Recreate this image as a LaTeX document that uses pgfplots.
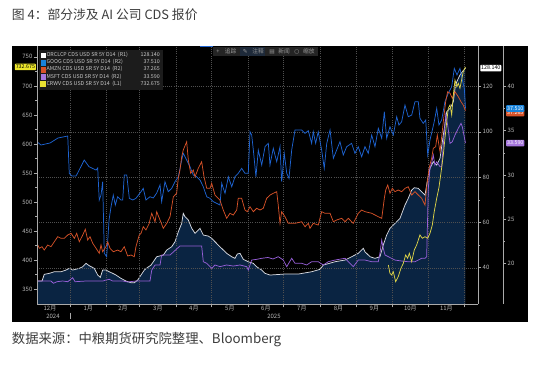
\documentclass[border=0pt]{standalone}
\usepackage{fontspec}
\setmainfont{Noto Sans CJK SC}
\newfontfamily\dejavu{DejaVu Sans}
\usepackage{pgfplots}
\pgfplotsset{compat=1.18}
\usepackage{pgfplotstable}

\definecolor{googc}{RGB}{30,100,210}
\definecolor{amznc}{RGB}{215,82,40}
\definecolor{msftc}{RGB}{150,95,215}
\definecolor{orclline}{RGB}{218,220,226}
\definecolor{orclfill}{RGB}{10,36,66}
\definecolor{crwvc}{RGB}{222,212,72}
\definecolor{axisgray}{RGB}{170,170,170}
\definecolor{gridgray}{RGB}{80,80,80}
\definecolor{labelgray}{RGB}{185,185,185}
\definecolor{legendbg}{RGB}{28,28,28}
\definecolor{legtext}{RGB}{200,200,200}
\definecolor{titlegray}{RGB}{60,60,60}
\definecolor{toolhl}{RGB}{30,42,58}

\pgfplotstableread{
d v
3.05 34.13
7.3 34.13
9.2 37.09
13.5 37.53
17.7 38.23
23.4 38.23
27.6 38.98
30.4 39.74
33.3 38.98
38.9 39.74
41.8 40.44
44.6 41.94
47.4 40.88
51.6 39.74
54.5 36.78
56.7 35.76
58.7 38.98
61.5 38.98
64.3 38.23
67.2 37.53
70.0 36.78
74.2 35.32
78.5 34.13
82.7 33.38
85.5 33.38
88.4 34.57
91.2 36.78
94.0 38.98
96.9 40.18
99.7 41.19
101.6 42.65
104.5 44.86
110.1 45.61
113.0 47.81
117.2 49.27
120.0 51.48
122.8 55.89
125.7 59.60
127.0 64.02
128.5 62.52
131.3 61.06
134.2 57.40
137.0 55.19
141.2 57.40
144.0 54.44
148.2 54.00
151.1 52.98
153.9 51.48
158.1 49.27
163.8 46.36
168.1 44.86
170.8 44.15
172.8 46.05
175.1 46.36
177.9 43.71
182.1 42.65
186.4 41.94
189.2 40.44
193.5 38.98
196.3 37.53
200.5 36.78
213.2 37.22
224.5 37.22
235.8 38.23
242.9 39.29
245.7 41.19
255.6 42.65
264.1 43.40
269.7 44.86
275.3 46.36
279.6 48.57
281.0 47.06
285.3 44.86
289.5 44.15
293.7 44.86
296.5 50.02
299.4 54.44
302.2 57.40
306.4 59.60
310.7 61.81
314.9 67.68
317.7 70.64
320.6 74.30
322.8 75.32
326.2 75.06
329.1 73.55
331.9 72.10
334.2 79.47
336.1 83.89
338.9 86.80
341.8 85.34
344.6 88.30
347.4 98.59
350.3 108.87
353.1 110.37
355.9 113.29
357.3 119.21
358.8 122.12
361.5 125.08
363.5 126.53
366.2 128.14
}\orcl

\pgfplotstableread{
d v
3.05 33.75
6.4 33.38
14.1 33.61
20.8 34.17
29.1 34.40
30.4 30.18
32.7 29.87
36.1 29.87
37.5 30.21
43.1 31.68
47.1 30.93
53.1 30.55
54.5 30.78
55.8 27.16
57.3 27.72
58.7 29.23
60.1 21.13
62.1 20.75
64.1 24.90
65.8 26.40
67.7 27.72
69.4 26.59
71.4 27.53
74.2 27.16
75.7 27.16
77.0 29.99
79.1 29.99
81.3 27.35
84.2 27.16
86.9 27.35
91.2 28.10
93.1 28.48
95.4 27.16
98.8 27.53
101.6 27.39
104.5 27.95
107.3 28.86
108.7 26.97
111.5 29.23
114.3 28.10
117.2 28.48
120.0 29.23
122.8 29.79
125.7 31.68
127.0 32.44
129.9 31.68
132.7 30.93
135.5 29.99
138.4 29.79
141.2 29.42
144.0 28.66
146.9 27.53
149.7 27.35
152.5 26.97
155.3 26.79
158.1 26.59
159.6 29.05
162.4 27.92
165.2 29.79
168.1 28.66
170.8 29.79
173.6 30.18
176.5 30.74
179.3 30.18
182.1 30.18
183.6 34.88
185.0 34.51
186.4 32.81
188.6 29.79
190.6 32.81
193.5 31.12
196.3 33.19
199.1 33.57
200.5 31.12
203.3 33.01
206.2 31.49
209.0 33.19
210.4 29.23
212.6 32.44
214.7 30.18
216.6 29.61
218.9 32.81
221.7 35.08
227.4 35.08
230.2 34.70
233.0 35.00
235.8 33.57
237.2 34.88
239.2 33.57
241.4 34.88
244.3 32.81
246.5 30.74
248.6 33.57
251.4 35.08
254.2 31.88
257.0 32.81
259.8 33.75
262.6 32.25
265.5 33.19
269.7 33.57
272.5 32.44
275.3 33.19
278.2 32.06
281.0 33.19
283.8 32.44
286.7 34.51
289.5 33.19
292.3 35.27
295.2 34.14
297.4 37.15
299.4 34.14
302.2 35.45
305.0 34.51
307.9 36.58
309.8 35.64
312.1 36.01
314.9 37.90
317.7 36.58
320.6 36.77
323.4 38.28
326.2 38.28
327.6 36.40
330.4 35.83
332.5 36.21
334.2 32.25
336.1 33.95
338.1 35.08
339.7 36.01
341.8 37.53
343.7 35.64
346.0 36.21
348.8 38.28
351.6 39.23
354.5 39.97
356.7 42.05
359.0 41.30
361.5 42.05
363.2 40.92
365.2 39.79
366.2 37.51
}\goog

\pgfplotstableread{
d v
3.05 22.26
5.0 21.70
7.3 21.88
9.2 21.50
12.1 22.07
14.9 21.88
17.7 22.44
20.6 23.01
23.4 22.83
26.2 22.83
29.1 23.20
31.9 23.39
34.7 22.83
36.7 23.39
38.9 22.44
41.8 23.20
44.0 23.85
46.0 22.64
48.0 23.01
50.3 22.26
53.1 21.70
55.8 21.13
57.3 22.07
58.7 21.31
61.5 21.88
63.0 22.44
64.9 21.70
67.7 21.31
71.4 21.50
74.2 21.31
77.0 21.88
79.9 20.83
82.7 20.94
85.5 20.75
86.9 21.88
89.7 23.20
91.2 23.39
93.1 24.14
95.4 23.77
98.2 24.52
98.8 24.90
100.3 25.66
103.1 24.70
104.5 25.84
107.3 24.90
110.1 23.96
113.0 24.52
115.8 25.27
118.6 27.53
121.4 27.92
122.8 29.61
124.2 30.55
125.7 32.06
127.0 32.81
129.9 33.75
131.3 31.68
133.3 30.18
135.5 30.55
137.0 29.79
139.7 30.74
142.6 31.49
144.6 29.79
146.9 28.48
149.7 28.48
151.1 29.05
153.9 27.72
158.1 27.16
160.9 26.03
163.8 25.09
166.6 25.66
169.4 25.46
172.3 26.03
173.6 27.35
176.5 27.35
179.3 26.03
181.3 25.84
183.6 26.40
186.4 25.84
189.2 26.22
192.0 26.03
194.8 26.22
197.7 27.35
200.5 27.72
203.3 27.92
206.2 28.10
207.5 26.59
209.0 24.52
210.4 25.84
213.2 25.27
216.0 24.52
221.7 24.52
227.4 24.70
230.2 24.14
233.0 24.52
234.4 23.96
237.2 24.52
241.4 24.33
244.3 25.84
247.1 25.66
251.4 25.66
254.2 24.70
257.0 24.90
261.3 25.09
264.1 24.70
266.9 25.09
271.1 24.52
275.3 25.66
278.2 26.03
281.0 25.84
286.7 25.66
292.3 25.27
295.2 25.09
296.5 26.40
297.4 27.35
298.6 28.29
300.3 28.86
302.2 27.92
304.2 28.48
306.4 28.10
309.2 28.29
312.1 28.10
314.9 28.48
317.7 28.66
320.6 27.72
323.4 28.10
326.2 27.72
329.1 27.35
331.9 26.59
333.3 28.66
335.3 30.74
337.5 31.88
338.9 33.01
340.9 33.19
342.3 34.51
344.6 32.62
347.4 36.01
349.4 38.28
351.1 39.41
353.1 39.23
355.0 38.66
357.3 39.41
360.1 38.84
362.4 38.28
364.3 37.90
366.2 37.27
}\amzn

\pgfplotstableread{
d v
3.05 18.00
14.9 18.00
16.9 17.74
20.0 17.92
24.8 18.00
29.1 17.92
33.3 18.37
35.3 17.92
44.6 18.00
59.0 18.00
61.5 18.11
64.3 18.19
67.2 18.00
75.7 18.00
79.9 17.89
86.9 18.00
98.8 18.00
100.3 19.24
103.1 19.81
107.3 19.81
108.7 20.94
115.8 20.94
124.2 21.96
142.6 21.96
144.0 20.18
146.9 20.00
151.1 19.43
153.9 19.81
158.1 19.62
163.8 19.81
169.4 19.69
175.1 19.81
180.8 19.62
182.1 19.24
185.0 20.37
189.2 20.45
193.7 20.57
198.8 20.66
203.1 20.49
207.5 20.75
211.8 20.37
214.7 19.62
218.9 20.57
221.7 20.00
227.4 20.00
231.6 19.81
235.8 20.18
241.4 20.18
245.7 19.81
249.9 20.18
255.6 20.37
264.1 20.57
271.1 19.62
275.3 20.37
281.0 20.37
286.7 20.18
292.3 20.18
293.7 21.13
295.2 22.64
296.5 21.70
298.0 20.94
300.8 20.75
306.4 20.37
312.1 20.26
317.7 20.18
323.4 20.18
329.1 20.57
331.9 20.57
333.3 20.75
334.7 28.48
336.1 30.74
337.5 31.31
338.9 32.25
340.3 31.12
341.8 31.49
344.6 30.93
346.0 30.93
347.4 33.38
349.4 36.77
351.1 35.64
353.1 33.57
355.0 33.75
357.3 34.51
360.1 35.27
362.4 35.83
363.5 35.45
366.2 33.59
}\msft

\pgfplotstableread{
d v
300.8 391.8
302.2 377.5
303.6 374.6
305.0 380.3
307.0 363.1
309.2 371.7
311.5 386.1
313.5 394.7
315.5 409.0
317.2 403.4
318.6 412.0
320.6 397.5
322.8 417.6
324.8 426.2
326.2 434.8
327.6 443.5
329.6 437.8
331.9 440.5
334.2 437.8
336.1 446.4
338.1 460.7
339.7 483.6
341.8 506.6
343.7 525.0
345.4 550.0
347.4 581.1
348.8 609.9
350.3 638.4
351.6 661.5
353.1 667.2
354.5 650.0
355.9 684.4
357.3 710.2
358.8 698.7
360.1 704.5
361.5 695.9
362.9 710.2
364.3 724.5
366.2 732.675
}\crwv

\pgfplotsset{
  base/.style={
    scale only axis, width=330.75pt, height=193.5pt,
    at={(27.75pt,46.5pt)}, anchor=south west,
    xmin=3.05, xmax=376.8,
    tick align=outside, major tick length=2.5pt, minor tick length=1.3pt,
    tick style={draw=axisgray, line width=0.4pt},
    axis line style={draw=axisgray, line width=0.45pt},
    ticklabel style={font=\fontsize{4.5}{5}\selectfont, text=labelgray},
    /pgf/number format/assume math mode=true,
  },
}
\tikzset{tag/.style={font=\fontsize{4}{4.5}\selectfont, inner sep=0.7pt, rounded corners=0.6pt, text height=2.9pt, text depth=0.6pt}}

\begin{document}
\begin{tikzpicture}
\fill[white] (0pt,0pt) rectangle (412.5pt,274.5pt);
\fill[black] (9pt,33pt) rectangle (396pt,240pt);
\node[anchor=west, inner sep=0pt, font=\fontsize{9.6}{11}\selectfont, text=titlegray] at (8.8pt,263.8pt) {图 4：部分涉及 AI 公司 CDS 报价};
\node[anchor=west, inner sep=0pt, font=\fontsize{10}{12}\selectfont, text=titlegray] at (8.8pt,19.5pt) {数据来源：中粮期货研究院整理、Bloomberg};

% ORCL, right axis R1 with grid
\begin{axis}[base, ymin=24.0, ymax=137.9,
  axis y line*=right, axis x line*=bottom,
  ytick={40,60,80,100,120}, minor y tick num=1,
  xtick={31,62,90,121,151,182,212,243,274,304,335,365}, xticklabels={},
  grid=major, major grid style={draw=gridgray, line width=0.35pt, dash pattern=on 0.7pt off 0.9pt},
  extra x ticks={14,46.5,76,105.5,136,166.5,197,227.5,258.5,289,319.5,350},
  extra x tick labels={12月,1月,2月,3月,4月,5月,6月,7月,8月,9月,10月,11月},
  extra x tick style={major tick length=0pt, grid=none},
  xticklabel style={inner sep=0.5pt, yshift=-0.7pt},
  yticklabel style={inner sep=0.8pt},
  axis on top, clip mode=individual]
\addplot[draw=none, fill=orclfill] table[x=d,y=v]{\orcl} \closedcycle;
\addplot[orclline, line width=0.55pt] table[x=d,y=v]{\orcl};
\node[tag, fill=white, text=black, anchor=west, xshift=1.5pt] at (axis cs:376.8,128.14) {128.140};
\node[font=\fontsize{4.5}{5}\selectfont, text=labelgray, yshift=-9pt] at (axis cs:16.6,24.0) {2024};
\node[font=\fontsize{4.5}{5}\selectfont, text=labelgray, yshift=-9pt] at (axis cs:203.9,24.0) {2025};
\draw[axisgray, line width=0.4pt] (axis cs:31,24.0) ++(0pt,-6.5pt) -- ++(0pt,-4.5pt);
\end{axis}

% R2 data
\begin{axis}[base, ymin=15.4, ymax=44.58, hide axis]
\addplot[googc, line width=0.55pt] table[x=d,y=v]{\goog};
\addplot[amznc, line width=0.55pt] table[x=d,y=v]{\amzn};
\addplot[msftc, line width=0.55pt] table[x=d,y=v]{\msft};
\end{axis}

% R2 scale
\begin{axis}[scale only axis, width=349.5pt, height=193.5pt,
  at={(27.75pt,46.5pt)}, anchor=south west,
  xmin=0, xmax=1, ymin=15.4, ymax=44.58, xtick=\empty,
  axis x line=none, axis y line*=right,
  ytick={20,25,30,35,40}, minor y tick num=1,
  tick align=outside, major tick length=2.5pt, minor tick length=1.3pt,
  tick style={draw=axisgray, line width=0.4pt},
  axis line style={draw=axisgray, line width=0.45pt},
  ticklabel style={font=\fontsize{4.5}{5}\selectfont, text=labelgray},
  yticklabel style={inner sep=0.8pt},
  /pgf/number format/assume math mode=true, clip=false]
\node[tag, fill=amznc, text=white, anchor=west, xshift=2.2pt] at (axis cs:1,37.0) {37.265};
\node[tag, fill=googc!80!cyan, text=white, anchor=west, xshift=2.2pt] at (axis cs:1,37.51) {37.510};
\node[tag, fill=msftc!85!white, text=white, anchor=west, xshift=2.2pt] at (axis cs:1,33.59) {33.590};
\end{axis}

% toolbar
\fill[black!86] (159.75pt,232.5pt) rectangle (238.5pt,239pt);
\fill[toolhl] (180pt,232.5pt) rectangle (198.75pt,239pt);
\fill[googc] (150pt,239.4pt) rectangle (159.75pt,240pt);
\begin{scope}[every node/.style={inner sep=0pt, text=black!40, font=\fontsize{4.3}{5}\selectfont}]
\node at (163.5pt,235.7pt) {+};
\node[anchor=west] at (168.5pt,235.7pt) {追踪};
\node at (184pt,235.7pt) {\dejavu ✎};
\node[anchor=west] at (189pt,235.7pt) {注释};
\node at (204pt,235.7pt) {\dejavu ▤};
\node[anchor=west] at (208.5pt,235.7pt) {新闻};
\node at (222.7pt,235.7pt) {\dejavu ○};
\node[anchor=west] at (227.2pt,235.7pt) {缩放};
\end{scope}

% L1 CRWV
\begin{axis}[base, ymin=324.7, ymax=768.7,
  axis y line*=left, axis x line=none, xtick=\empty,
  ytick={350,400,...,750}, minor y tick num=1,
  yticklabel style={inner sep=0.8pt},
  clip=false,
  legend cell align=left,
  legend style={at={(0.003,0.987)}, anchor=north west, fill=legendbg, draw=none,
    text=legtext, font=\fontsize{4}{4.6}\selectfont, inner sep=1.4pt, row sep=-0.6pt,
    nodes={inner sep=0.6pt}}]
\addlegendimage{legend image code/.code={\fill[white] (0pt,-1.7pt) rectangle (3.4pt,1.7pt);}}
\addlegendentry{\makebox[62pt][l]{ORCLCP CDS USD SR 5Y D14\ \ (R1)}\makebox[23pt][r]{128.140}}
\addlegendimage{legend image code/.code={\fill[googc!80!cyan] (0pt,-1.7pt) rectangle (3.4pt,1.7pt);}}
\addlegendentry{\makebox[62pt][l]{GOOG CDS USD SR 5Y D14\ \ (R2)}\makebox[23pt][r]{37.510}}
\addlegendimage{legend image code/.code={\fill[amznc] (0pt,-1.7pt) rectangle (3.4pt,1.7pt);}}
\addlegendentry{\makebox[62pt][l]{AMZN CDS USD SR 5Y D14\ \ (R2)}\makebox[23pt][r]{37.265}}
\addlegendimage{legend image code/.code={\fill[msftc!85!white] (0pt,-1.7pt) rectangle (3.4pt,1.7pt);}}
\addlegendentry{\makebox[62pt][l]{MSFT CDS USD SR 5Y D14\ \ (R2)}\makebox[23pt][r]{33.590}}
\addplot[crwvc, line width=0.55pt, legend image code/.code={\fill[crwvc!70!yellow] (0pt,-1.7pt) rectangle (3.4pt,1.7pt);}] table[x=d,y=v]{\crwv};
\addlegendentry{\makebox[62pt][l]{CRWV CDS USD SR 5Y D14\ \ (L1)}\makebox[23pt][r]{732.675}}
\node[tag, fill=crwvc!60!yellow, text=black, anchor=east, xshift=-0.6pt] at (axis cs:3.05,732.675) {732.675};
\end{axis}
\end{tikzpicture}
\end{document}
